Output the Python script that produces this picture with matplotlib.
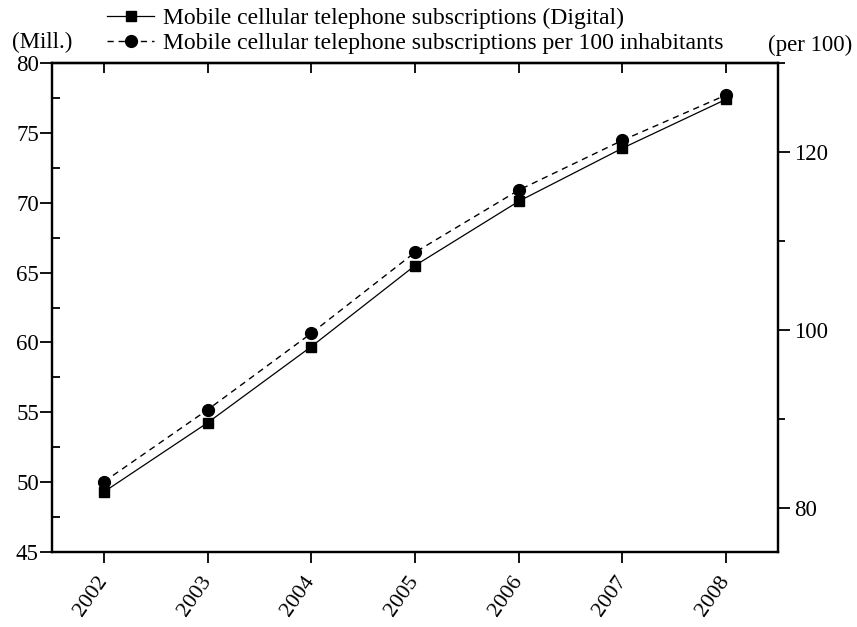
import numpy as np
import matplotlib
matplotlib.use("Agg")
import matplotlib.pyplot as plt
from matplotlib.ticker import MultipleLocator

plt.rcParams['font.family'] = ['Liberation Serif', 'DejaVu Serif']

# yearly figures
years = [2002, 2003, 2004, 2005, 2006, 2007, 2008]
subs_mill = [49.3, 54.25, 59.7, 65.5, 70.1, 73.9, 77.4]
subs_per100 = [82.9, 91.0, 99.6, 108.7, 115.7, 121.3, 126.4]

fig = plt.figure(figsize=(8.57, 6.27), dpi=100)
ax1 = fig.add_axes([0.0607, 0.1196, 0.847, 0.7799])
ax2 = ax1.twinx()

l1, = ax1.plot(years, subs_mill, color='black', lw=0.9, marker='s', markersize=7.5,
               label='Mobile cellular telephone subscriptions (Digital)')
l2, = ax2.plot(years, subs_per100, color='black', lw=1.0, linestyle=(0, (4.5, 3.5)),
               marker='o', markersize=8.5,
               label='Mobile cellular telephone subscriptions per 100 inhabitants')

ax1.set_xlim(2001.5, 2008.5)
ax1.set_ylim(45, 80)
ax2.set_ylim(75, 130)

ax1.set_xticks(years)
ax1.set_xticklabels([str(y) for y in years], rotation=55, ha='right', va='center',
                    rotation_mode='anchor')
ax1.yaxis.set_major_locator(MultipleLocator(5))
ax1.yaxis.set_minor_locator(MultipleLocator(2.5))
ax2.set_yticks([80, 100, 120])
ax2.yaxis.set_minor_locator(MultipleLocator(10))

for ax in (ax1, ax2):
    for s in ax.spines.values():
        s.set_linewidth(1.6)

ax1.tick_params(axis='y', which='major', direction='out', length=8.5, width=1.3,
                labelsize=16.5, pad=1)
ax1.tick_params(axis='y', which='minor', direction='in', length=5.5, width=1.3)
ax1.tick_params(axis='x', which='major', direction='out', length=8, width=1.3,
                labelsize=16, pad=11, top=False)
ax2.tick_params(axis='y', which='major', direction='out', length=8.5, width=1.3,
                labelsize=16.5, pad=3)
ax2.tick_params(axis='y', which='minor', direction='out', length=5, width=1.3)

# top ticks point inward, bottom outward
sec = ax1.secondary_xaxis('top')
sec.set_xticks(years)
sec.tick_params(direction='in', length=7, width=1.3, labeltop=False)
sec.spines['top'].set_linewidth(1.6)

fig.text(0.014, 0.915, '(Mill.)', fontsize=16.5, ha='left', va='bottom')
fig.text(0.995, 0.911, '(per 100)', fontsize=16.5, ha='right', va='bottom')

fig.legend(handles=[l1, l2], loc='upper left', bbox_to_anchor=(0.114, 1.003),
           frameon=False, fontsize=17, handlelength=2.0, handletextpad=0.35,
           labelspacing=0.15, borderaxespad=0.0)

fig.savefig('out.png', dpi=100)
